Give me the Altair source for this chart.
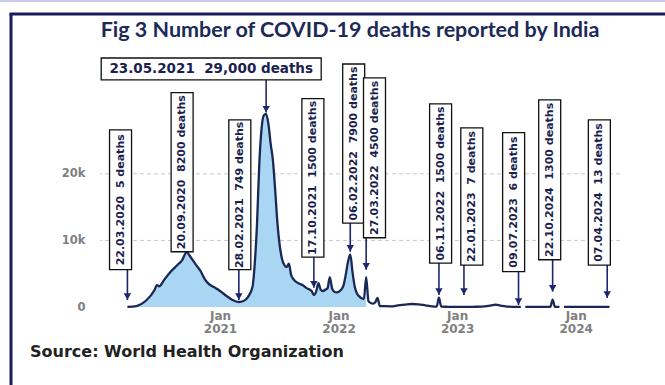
import altair as alt
import pandas as pd

# ---------------- data ----------------
# weekly COVID-19 deaths in India, three line segments
s1_dates = ["2020-03-22", "2020-04-19", "2020-05-17", "2020-06-14", "2020-06-21", "2020-06-28",
            "2020-07-12", "2020-08-02", "2020-08-23", "2020-09-06", "2020-09-20", "2020-10-04",
            "2020-10-18", "2020-11-01", "2020-11-15", "2020-11-29", "2020-12-13", "2020-12-27",
            "2021-01-17", "2021-02-07", "2021-02-28", "2021-03-14", "2021-03-28", "2021-04-11",
            "2021-04-18", "2021-04-25", "2021-05-02", "2021-05-09", "2021-05-16", "2021-05-23",
            "2021-05-30", "2021-06-06", "2021-06-13", "2021-06-20", "2021-06-27", "2021-07-04",
            "2021-07-11", "2021-07-18", "2021-07-25", "2021-08-01", "2021-08-08", "2021-08-15",
            "2021-08-29", "2021-09-12", "2021-09-26", "2021-10-10", "2021-10-17", "2021-10-24",
            "2021-10-31", "2021-11-07", "2021-11-14", "2021-11-21", "2021-11-28", "2021-12-05",
            "2021-12-12", "2021-12-19", "2021-12-26", "2022-01-09", "2022-01-16", "2022-01-23",
            "2022-01-30", "2022-02-06", "2022-02-13", "2022-02-20", "2022-02-27", "2022-03-06",
            "2022-03-13", "2022-03-20", "2022-03-27", "2022-04-03", "2022-04-10", "2022-04-17",
            "2022-04-24", "2022-05-01", "2022-05-08", "2022-05-22", "2022-06-12", "2022-07-03",
            "2022-07-24", "2022-08-14", "2022-09-04", "2022-09-25", "2022-10-16", "2022-10-30",
            "2022-11-06", "2022-11-13", "2022-12-04", "2023-01-22", "2023-02-19", "2023-03-19",
            "2023-04-16", "2023-04-30", "2023-05-14", "2023-06-04", "2023-07-09", "2023-07-16"]
s1_deaths = [5, 150, 900, 2600, 3300, 3100,
             4000, 5300, 6300, 7000, 8200, 7400,
             6400, 5500, 4200, 3400, 3000, 2600,
             1800, 1100, 749, 900, 1500, 3000,
             6500, 12500, 21500, 26800, 28800, 29000,
             27500, 24500, 22000, 17500, 12500, 9200,
             7200, 6300, 6000, 6500, 4800, 4200,
             3600, 3300, 2800, 2400, 1800, 2300,
             3600, 2600, 2400, 2600, 2800, 4500,
             2800, 2300, 2200, 2600, 3200, 4800,
             6800, 7900, 5200, 3000, 2000, 1600,
             1300, 1200, 4500, 900, 600, 500,
             700, 1350, 150, 120, 100, 250,
             350, 450, 400, 250, 100, 60,
             1400, 50, 30, 7, 30, 60,
             250, 350, 200, 60, 6, 10]
s2_dates = ["2023-07-30", "2023-08-27", "2023-09-24", "2023-10-15", "2023-10-22", "2023-10-29", "2023-11-12"]
s2_deaths = [10, 15, 10, 30, 1100, 20, 10]
s3_dates = ["2023-11-26", "2024-01-07", "2024-02-18", "2024-04-07", "2024-04-14"]
s3_deaths = [5, 20, 15, 13, 10]

# annotations: point dates and labels (text as printed on the original)
ann_dates = ["2020-03-22", "2020-09-20", "2021-02-28", "2021-05-23", "2021-10-17", "2022-02-06",
             "2022-03-27", "2022-11-06", "2023-01-22", "2023-07-09", "2023-10-22", "2024-04-07"]
ann_labels = ["22.03.2020  5 deaths", "20.09.2020  8200 deaths", "28.02.2021  749 deaths",
              "23.05.2021  29,000 deaths", "17.10.2021  1500 deaths", "06.02.2022  7900 deaths",
              "27.03.2022  4500 deaths", "06.11.2022  1500 deaths", "22.01.2023  7 deaths",
              "09.07.2023  6 deaths", "22.10.2024  1300 deaths", "07.04.2024  13 deaths"]

tick_years = [2021, 2022, 2023, 2024]
y_ticks = [0, 10000, 20000]
grid_vals = [10000, 20000]

TITLE = "Fig 3 Number of COVID-19 deaths reported by India"
SOURCE = "Source: World Health Organization"

# ---------------- layout (annotation box placement) ----------------
box_dx = [-7, -4.5, 1, -56, -1, 3.5, 8.5, 1.7, 8, -5, -3, -8]            # px shift of box centre
box_top = [26600, 32200, 28100, 37400, 31300, 36500, 34400, 30500, 26900, 26200, 31100, 28100]
box_bot = [5600, 8300, 5600, 34100, 7500, 12600, 10400, 6600, 6300, 5300, 7100, 6300]
arrow_tip = [1050, None, 1050, 29200, 2900, 8300, 5600, 1800, 1800, 300, 2300, 1350]
horizontal = [False, False, False, True, False, False, False, False, False, False, False, False]

W, H = 520, 253
D0, D1 = pd.Timestamp("2020-01-13"), pd.Timestamp("2024-05-01")
ms_per_px = (D1 - D0) / W

NAVY = "#1b2756"
ARROW = "#1f2670"
LABEL_GREY = "#808080"

rows = []
for seg, (ds, vs) in enumerate([(s1_dates, s1_deaths), (s2_dates, s2_deaths), (s3_dates, s3_deaths)], 1):
    for d, v in zip(ds, vs):
        rows.append({"date": d, "deaths": v, "seg": seg})
series = pd.DataFrame(rows)
area_df = series[(series.seg == 1) & (pd.to_datetime(series.date) <= pd.Timestamp("2022-03-27"))]

ann = pd.DataFrame({
    "date": ann_dates,
    # keep the double spaces visible in SVG
    "label": [s.replace("  ", " \u00a0") for s in ann_labels],
    "top": box_top, "bot": box_bot, "tip": arrow_tip, "horiz": horizontal,
})
ann["box_date"] = [(pd.Timestamp(d) + dx * ms_per_px).strftime("%Y-%m-%dT%H:%M:%SZ")
                   for d, dx in zip(ann_dates, box_dx)]
ann["mid"] = (ann["top"] + ann["bot"]) / 2
vert = ann[~ann.horiz]
hor = ann[ann.horiz]
arrows = ann[ann.tip.notna()].copy()

x_scale = alt.Scale(type="utc", domain=[alt.DateTime(year=2020, month=1, date=13, utc=True),
                                        alt.DateTime(year=2024, month=5, date=1, utc=True)])
y_scale = alt.Scale(domain=[0, 38000], nice=False)

x_axis = alt.Axis(values=[alt.DateTime(year=y, month=1, date=1, utc=True) for y in tick_years],
                  labelExpr="[utcFormat(datum.value, '%b'), utcFormat(datum.value, '%Y')]",
                  domain=False, ticks=False, grid=False, title=None,
                  labelFont="DejaVu Sans", labelFontWeight="bold", labelFontSize=12,
                  labelColor=LABEL_GREY, labelPadding=3, labelLineHeight=13)
y_axis = alt.Axis(values=y_ticks,
                  labelExpr="datum.value == 0 ? '0' : format(datum.value / 1000, 'd') + 'k'",
                  domain=False, ticks=False, grid=False, title=None,
                  labelFont="DejaVu Sans", labelFontWeight="bold", labelFontSize=11.5,
                  labelColor=LABEL_GREY, labelPadding=15)


def X(field):
    return alt.X(field, scale=x_scale, axis=x_axis)


def Y(field):
    return alt.Y(field, scale=y_scale, axis=y_axis)


grid = alt.Chart(pd.DataFrame({"v": grid_vals})).mark_rule(
    color="#c9c9c9", strokeDash=[4, 3], strokeWidth=1
).encode(y=Y("v:Q"))

area = alt.Chart(area_df).mark_area(color="#a9d6f3", interpolate="monotone").encode(
    x=X("date:T"), y=Y("deaths:Q"),
)

line = alt.Chart(series).mark_line(color=NAVY, strokeWidth=2.3, interpolate="monotone").encode(
    x=X("date:T"), y=Y("deaths:Q"), detail="seg:N",
)

arrow_lines = alt.Chart(arrows).mark_rule(color=ARROW, strokeWidth=1.6).encode(
    x=X("date:T"), y=Y("bot:Q"), y2="tip:Q",
)
arrow_heads = alt.Chart(arrows).mark_point(
    shape="triangle-down", filled=True, size=55, color=ARROW, opacity=1, yOffset=-3.5
).encode(x=X("date:T"), y=Y("tip:Q"))

vboxes = alt.Chart(vert).mark_bar(width=22, fill="white", stroke="#111111", strokeWidth=1.3).encode(
    x=X("box_date:T"), y=Y("top:Q"), y2="bot:Q",
)
vtext = alt.Chart(vert).mark_text(angle=270, font="DejaVu Sans", fontWeight="bold", fontSize=11,
                                  color="#1b1f4f").encode(
    x=X("box_date:T"), y=Y("mid:Q"), text="label:N",
)
hbox = alt.Chart(hor).mark_bar(width=220, fill="white", stroke="#111111", strokeWidth=1.3).encode(
    x=X("box_date:T"), y=Y("top:Q"), y2="bot:Q",
)
htext = alt.Chart(hor).mark_text(font="DejaVu Sans", fontWeight="bold", fontSize=13.5,
                                 color="#1b1f4f").encode(
    x=X("box_date:T"), y=Y("mid:Q"), text="label:N",
)

dummy = alt.Data(values=[{}])
frame_left = alt.Chart(dummy).mark_rule(color="#1a1a5e", strokeWidth=3).encode(
    x=alt.value(-89), y=alt.value(-40), y2=alt.value(335))
frame_top = alt.Chart(dummy).mark_rule(color="#1a1a5e", strokeWidth=3).encode(
    x=alt.value(-90.5), x2=alt.value(570), y=alt.value(-40))
top_line = alt.Chart(dummy).mark_rule(color="#b9b9e3", strokeWidth=1.5).encode(
    x=alt.value(-100), x2=alt.value(570), y=alt.value(-53))
title = alt.Chart(dummy).mark_text(align="center", baseline="middle", font="Lato",
                                   fontWeight="bold", fontSize=21.5, color="#1b2a57").encode(
    x=alt.value(250), y=alt.value(-23), text=alt.value(TITLE))
source = alt.Chart(dummy).mark_text(align="left", baseline="middle", font="DejaVu Sans",
                                    fontWeight="bold", fontSize=16, color="#222222").encode(
    x=alt.value(-70), y=alt.value(298), text=alt.value(SOURCE))

chart = alt.layer(
    grid, area, line, arrow_lines, arrow_heads, vboxes, vtext, hbox, htext,
    frame_left, frame_top, top_line, title, source,
).properties(
    width=W, height=H,
    padding={"left": 100, "top": 54, "right": 45, "bottom": 78},
    autosize=alt.AutoSizeParams(type="none"),
    background="white",
).configure_view(strokeWidth=0)

chart.save("out.html", embed_options={"renderer": "svg", "actions": False})
